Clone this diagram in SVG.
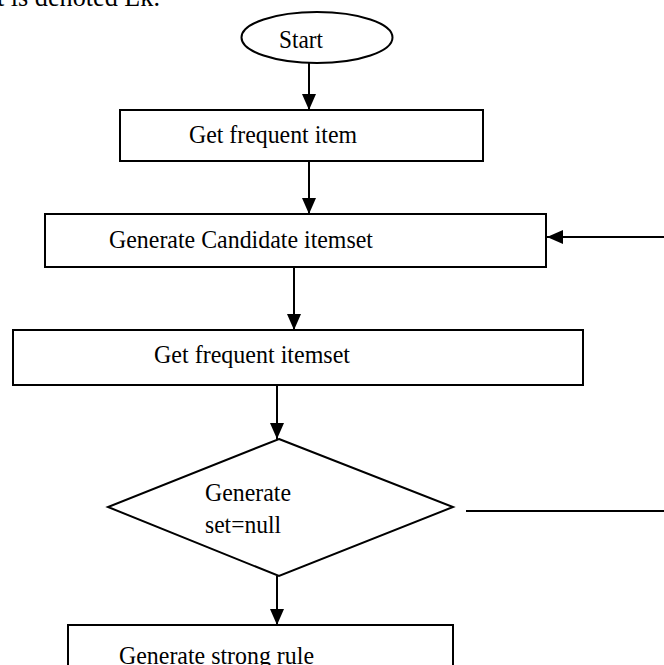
<svg xmlns="http://www.w3.org/2000/svg" width="664" height="665" viewBox="0 0 664 665">
<defs>
<marker id="ah" markerWidth="16" markerHeight="16" viewBox="0 0 16 16" refX="16" refY="8" orient="auto" markerUnits="userSpaceOnUse">
<path d="M0,1 L16,8 L0,15 Z" fill="#000"/>
</marker>
<style>
.box{fill:#fff;stroke:#000;stroke-width:2}
.t{font-family:"Liberation Serif","Times New Roman",serif;font-size:25px;fill:#000}
.c{stroke:#000;stroke-width:2;fill:none}
</style>
</defs>
<rect width="664" height="665" fill="#fff"/>
<text class="t" x="-3" y="6" style="font-size:28px" textLength="163" lengthAdjust="spacingAndGlyphs">t is denoted Lk.</text>
<g id="start">
<ellipse class="box" cx="317" cy="37.5" rx="75.5" ry="25.5"/>
<text class="t" x="279" y="48" textLength="44" lengthAdjust="spacingAndGlyphs">Start</text>
</g>
<g id="get-frequent-item">
<rect class="box" x="120" y="110" width="363" height="51"/>
<text class="t" x="189" y="143" textLength="168" lengthAdjust="spacingAndGlyphs">Get frequent item</text>
</g>
<g id="generate-candidate">
<rect class="box" x="45" y="214" width="501" height="53"/>
<text class="t" x="109" y="248" textLength="264" lengthAdjust="spacingAndGlyphs">Generate Candidate itemset</text>
</g>
<g id="get-frequent-itemset">
<rect class="box" x="13" y="330" width="570" height="55"/>
<text class="t" x="154" y="363" textLength="196" lengthAdjust="spacingAndGlyphs">Get frequent itemset</text>
</g>
<g id="decision">
<polygon class="box" points="279,439 453,507 279,576 108,507"/>
<text class="t" x="205" y="501" textLength="86" lengthAdjust="spacingAndGlyphs">Generate</text>
<text class="t" x="205" y="533" textLength="76" lengthAdjust="spacingAndGlyphs">set=null</text>
</g>
<g id="strong-rule">
<rect class="box" x="68" y="625" width="385" height="60"/>
<text class="t" x="119" y="664" textLength="195" lengthAdjust="spacingAndGlyphs">Generate strong rule</text>
</g>
<g id="connectors">
<line class="c" x1="309" y1="63" x2="309" y2="110" marker-end="url(#ah)"/>
<line class="c" x1="309" y1="161" x2="309" y2="214" marker-end="url(#ah)"/>
<line class="c" x1="294" y1="267" x2="294" y2="330" marker-end="url(#ah)"/>
<line class="c" x1="277" y1="385" x2="277" y2="439" marker-end="url(#ah)"/>
<line class="c" x1="277" y1="576" x2="277" y2="625" marker-end="url(#ah)"/>
<line class="c" x1="664" y1="237" x2="547" y2="237" marker-end="url(#ah)"/>
<line class="c" x1="466" y1="511" x2="664" y2="511"/>
</g>
</svg>
